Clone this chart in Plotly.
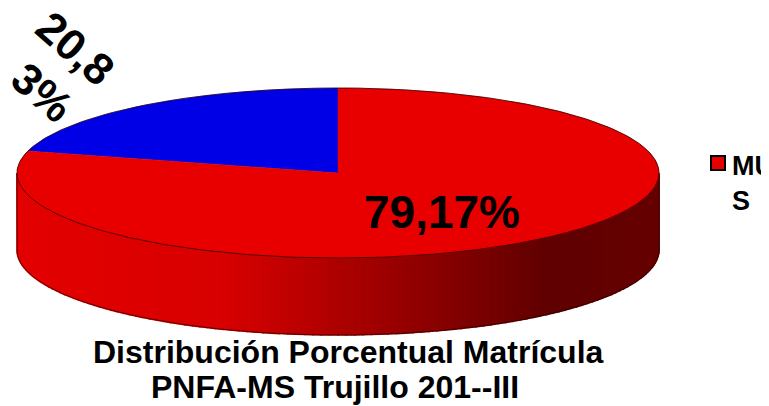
import numpy as np
import plotly.graph_objects as go

# ---- data ----
categories = ["HOMBRES", "MUJERES"]
values = [20.83, 79.17]
slice_colors = ["#0000E6", "#E80000"]
legend_labels = ["MUJERE<br>S"]
title_lines = ["Distribución Porcentual Matrícula", "PNFA-MS Trujillo 201--III"]

# ---- geometry (axes in page-pixel space; the page body has an 8px margin) ----
W, H = 769, 406
OFF = 8
cx, cy, rx, ry, depth = 338, 173, 321, 85, 77

def ept(theta, dy=0.0):
    return cx + rx * np.cos(theta), cy - ry * np.sin(theta) + dy

fig = go.Figure()

# side wall (front half) with horizontal shading
def wall_color(x):
    xn = (x - cx) / rx
    a, b = -0.35, 0.66
    if xn <= a:
        r = 228 - (xn + 1) / (a + 1) * 12
    elif xn >= b:
        r = 96 + (xn - b) / (1 - b) * 6
    else:
        r = 216 - (xn - a) / (b - a) * 120
    return f"rgb({int(r)},0,0)"

N = 120
thetas = np.linspace(np.pi, 2 * np.pi, N + 1)
for i in range(N):
    t0, t1 = thetas[i], thetas[i + 1]
    ts = np.linspace(t0, t1, 3)
    xt, yt = ept(ts)
    xb, yb = ept(ts[::-1], depth)
    xs = np.concatenate([xt, xb, xt[:1]])
    ys = np.concatenate([yt, yb, yt[:1]])
    col = wall_color(float(np.mean(xt)))
    fig.add_trace(go.Scatter(x=xs, y=ys, mode="lines", fill="toself",
                             fillcolor=col, line=dict(color=col, width=1.6),
                             hoverinfo="skip", showlegend=False))

# wall outline
tt = np.linspace(np.pi, 2 * np.pi, 200)
xo, yo = ept(tt, depth)
xl, yl = ept(np.array([np.pi]))
xr, yr = ept(np.array([2 * np.pi]))
fig.add_trace(go.Scatter(x=np.concatenate([xl, xo, xr]),
                         y=np.concatenate([yl, yo, yr]),
                         mode="lines", line=dict(color="rgba(40,0,0,0.7)", width=1),
                         hoverinfo="skip", showlegend=False))

# top face slices: start at 12 o'clock, first slice counter-clockwise
total = sum(values)
start = np.pi / 2
for v, col in zip(values, slice_colors):
    sweep = 2 * np.pi * v / total
    ts = np.linspace(start, start + sweep, 200)
    x, y = ept(ts)
    xs = np.concatenate([[cx], x, [cx]])
    ys = np.concatenate([[cy], y, [cy]])
    fig.add_trace(go.Scatter(x=xs, y=ys, mode="lines", fill="toself",
                             fillcolor=col, line=dict(color=col, width=0.5),
                             hoverinfo="skip", showlegend=False))
    start += sweep

# top outline
tt = np.linspace(0, 2 * np.pi, 400)
xo, yo = ept(tt)
fig.add_trace(go.Scatter(x=xo, y=yo, mode="lines",
                         line=dict(color="rgba(40,0,0,0.75)", width=1),
                         hoverinfo="skip", showlegend=False))

# legend marker
fig.add_trace(go.Scatter(x=[718], y=[163], mode="markers",
                         marker=dict(symbol="square", size=14, color=slice_colors[1],
                                     line=dict(color="black", width=2)),
                         hoverinfo="skip", showlegend=False))

def fmt(v):
    return f"{v:.2f}".replace(".", ",") + "%"

FAM = "Liberation Sans"
annotations = []
s0 = fmt(values[0])
# blue slice label, wrapped onto two rotated lines
for part, (px, py) in zip([s0[:4], s0[4:]], [(76, 48), (43, 92)]):
    annotations.append(dict(x=px, y=py, xref="x", yref="y",
                            text="<b>" + part + "</b>", borderpad=0,
                            showarrow=False, textangle=41,
                            font=dict(family=FAM, size=44, color="black"),
                            xanchor="center", yanchor="middle"))
annotations.append(dict(x=442, y=212, xref="x", yref="y", text="<b>" + fmt(values[1]) + "</b>",
                        showarrow=False, font=dict(family=FAM, size=46, color="black"),
                        xanchor="center", yanchor="middle"))
annotations.append(dict(x=348, y=352, xref="x", yref="y", text="<b>" + title_lines[0] + "</b>",
                        showarrow=False, font=dict(family=FAM, size=32, color="black"),
                        xanchor="center", yanchor="middle"))
annotations.append(dict(x=335, y=387, xref="x", yref="y", text="<b>" + title_lines[1] + "</b>",
                        showarrow=False, font=dict(family=FAM, size=32, color="black"),
                        xanchor="center", yanchor="middle"))
annotations.append(dict(x=730, y=149, xref="x", yref="y", text="<b>" + legend_labels[0] + "</b>",
                        showarrow=False, font=dict(family=FAM, size=27, color="black"),
                        xanchor="left", yanchor="top", align="left"))

fig.update_layout(
    width=W - OFF, height=H - OFF, margin=dict(l=0, r=0, t=0, b=0),
    paper_bgcolor="white", plot_bgcolor="white",
    xaxis=dict(range=[OFF, W], visible=False, fixedrange=True),
    yaxis=dict(range=[H, OFF], visible=False, fixedrange=True),
    annotations=annotations, showlegend=False,
)
fig.write_html("out.html")
